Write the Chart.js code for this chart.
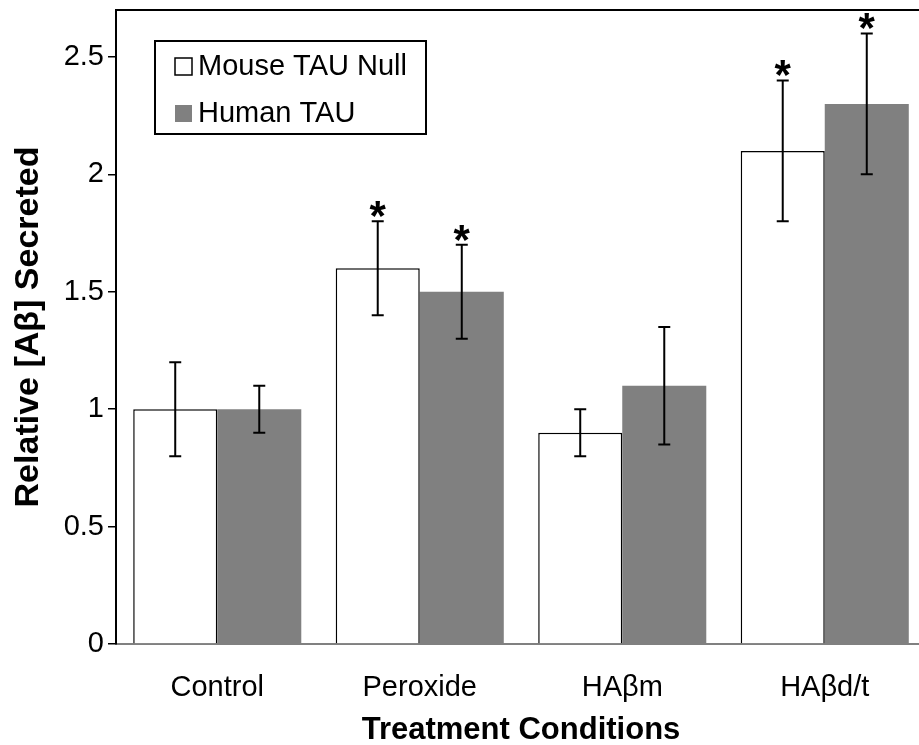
<!DOCTYPE html>
<html>
<head>
<meta charset="utf-8">
<script src="https://cdn.jsdelivr.net/npm/chart.js@4.4.1/dist/chart.umd.min.js"></script>
<style>
  html, body { margin: 0; padding: 0; background: #fff; overflow: hidden; }
  #wrap { width: 940px; height: 745px; }
</style>
</head>
<body>
<div id="wrap"><canvas id="chart-area" width="940" height="745"></canvas></div>
<script>
// treatment groups and measured values
var conditions = ['Control', 'Peroxide', 'HA\u03b2m', 'HA\u03b2d/t'];
var mouseNull = [1.0, 1.6, 0.9, 2.1];
var mouseNullErr = [0.2, 0.2, 0.1, 0.3];
var humanTau = [1.0, 1.5, 1.1, 2.3];
var humanTauErr = [0.1, 0.2, 0.25, 0.3];
// significance markers (*) per series
var mouseNullSig = [false, true, false, true];
var humanTauSig = [false, true, false, true];
var yTicks = [0, 0.5, 1, 1.5, 2, 2.5];

var FONT = "'Liberation Sans', Arial, sans-serif";

// error bars + asterisks drawn on top of the bars
var errorBars = {
	id: 'errorBars',
	afterDatasetsDraw: function (chart) {
		var ctx = chart.ctx;
		var y = chart.scales.y;
		ctx.save();
		chart.data.datasets.forEach(function (ds, i) {
			var meta = chart.getDatasetMeta(i);
			meta.data.forEach(function (bar, j) {
				var v = ds.data[j], e = ds.errors[j];
				var top = y.getPixelForValue(v + e);
				var bot = y.getPixelForValue(v - e);
				ctx.strokeStyle = '#000';
				ctx.lineWidth = 2;
				ctx.beginPath();
				ctx.moveTo(bar.x, top); ctx.lineTo(bar.x, bot);
				ctx.moveTo(bar.x - 6, top); ctx.lineTo(bar.x + 6, top);
				ctx.moveTo(bar.x - 6, bot); ctx.lineTo(bar.x + 6, bot);
				ctx.stroke();
				if (ds.sig[j]) {
					ctx.fillStyle = '#000';
					ctx.font = 'bold 42px ' + FONT;
					ctx.textAlign = 'center';
					ctx.textBaseline = 'alphabetic';
					var m = ctx.measureText('*');
					var cy = top - 12;
					var base = cy + (m.actualBoundingBoxAscent - m.actualBoundingBoxDescent) / 2;
					ctx.fillText('*', bar.x, base);
				}
			});
		});
		ctx.restore();
	}
};

// frame line along the top of the plot area
var frame = {
	id: 'frame',
	afterDraw: function (chart) {
		var a = chart.chartArea, ctx = chart.ctx;
		ctx.save();
		ctx.strokeStyle = '#000';
		ctx.lineWidth = 2;
		ctx.beginPath();
		ctx.moveTo(a.left - 1, a.top);
		ctx.lineTo(chart.width, a.top);
		ctx.stroke();
		ctx.restore();
	}
};

// boxed legend in the upper left of the plot
var boxLegend = {
	id: 'boxLegend',
	afterDraw: function (chart) {
		var ctx = chart.ctx;
		var x0 = 155, y0 = 41, w = 271, h = 93;
		ctx.save();
		ctx.fillStyle = '#fff';
		ctx.fillRect(x0, y0, w, h);
		ctx.strokeStyle = '#000';
		ctx.lineWidth = 2;
		ctx.strokeRect(x0, y0, w, h);
		ctx.font = '29px ' + FONT;
		ctx.textBaseline = 'middle';
		ctx.textAlign = 'left';
		chart.data.datasets.forEach(function (ds, i) {
			var cy = 66 + i * 47;
			ctx.fillStyle = ds.backgroundColor;
			ctx.fillRect(175, cy - 8, 17, 17);
			if (ds.borderWidth) {
				ctx.lineWidth = 1.5;
				ctx.strokeStyle = '#000';
				ctx.strokeRect(175, cy - 8, 17, 17);
			}
			ctx.fillStyle = '#000';
			ctx.fillText(ds.label, 198, cy + 1);
		});
		ctx.restore();
	}
};

var config = {
	type: 'bar',
	data: {
		labels: conditions,
		datasets: [{
			label: 'Mouse TAU Null',
			data: mouseNull,
			errors: mouseNullErr,
			sig: mouseNullSig,
			backgroundColor: '#ffffff',
			borderColor: '#000000',
			borderWidth: 1.5,
			categoryPercentage: 0.83,
			barPercentage: 1.0
		}, {
			label: 'Human TAU',
			data: humanTau,
			errors: humanTauErr,
			sig: humanTauSig,
			backgroundColor: '#808080',
			borderWidth: 0,
			categoryPercentage: 0.83,
			barPercentage: 1.0
		}]
	},
	options: {
		responsive: false,
		animation: false,
		layout: { padding: { top: 10, right: 14, left: 0, bottom: 0 } },
		plugins: { legend: { display: false }, tooltip: { enabled: false } },
		scales: {
			x: {
				grid: { display: false, drawTicks: false },
				border: { color: '#808080', width: 2 },
				ticks: { color: '#000', font: { family: FONT, size: 29 }, padding: 27 },
				title: {
					display: true,
					text: 'Treatment Conditions',
					color: '#000',
					font: { family: FONT, size: 31, weight: 'bold' },
					padding: { top: 0, bottom: -4 }
				},
				afterFit: function (s) {
					s.height = 101;
					s.paddingLeft = 0; s.paddingRight = 0;
				}
			},
			y: {
				min: 0,
				max: 2.7,
				afterBuildTicks: function (s) {
					s.ticks = yTicks.map(function (v) { return { value: v }; });
				},
				ticks: {
					color: '#000',
					font: { family: FONT, size: 29 },
					padding: 4,
					callback: function (v) { return String(v); }
				},
				grid: { drawOnChartArea: false, drawTicks: true, tickLength: 8, color: '#000', lineWidth: 1.5 },
				border: { color: '#000', width: 2 },
				title: {
					display: true,
					text: 'Relative [A\u03b2] Secreted',
					color: '#000',
					font: { family: FONT, size: 34, weight: 'bold' },
					padding: { top: 8, bottom: 0 }
				},
				afterFit: function (s) {
					s.width = 116;
					s.paddingTop = 0; s.paddingBottom = 0;
				}
			}
		}
	},
	plugins: [errorBars, frame, boxLegend]
};

var context = document.getElementById('chart-area').getContext('2d');
window.myBars = new Chart(context, config);
</script>
</body>
</html>
